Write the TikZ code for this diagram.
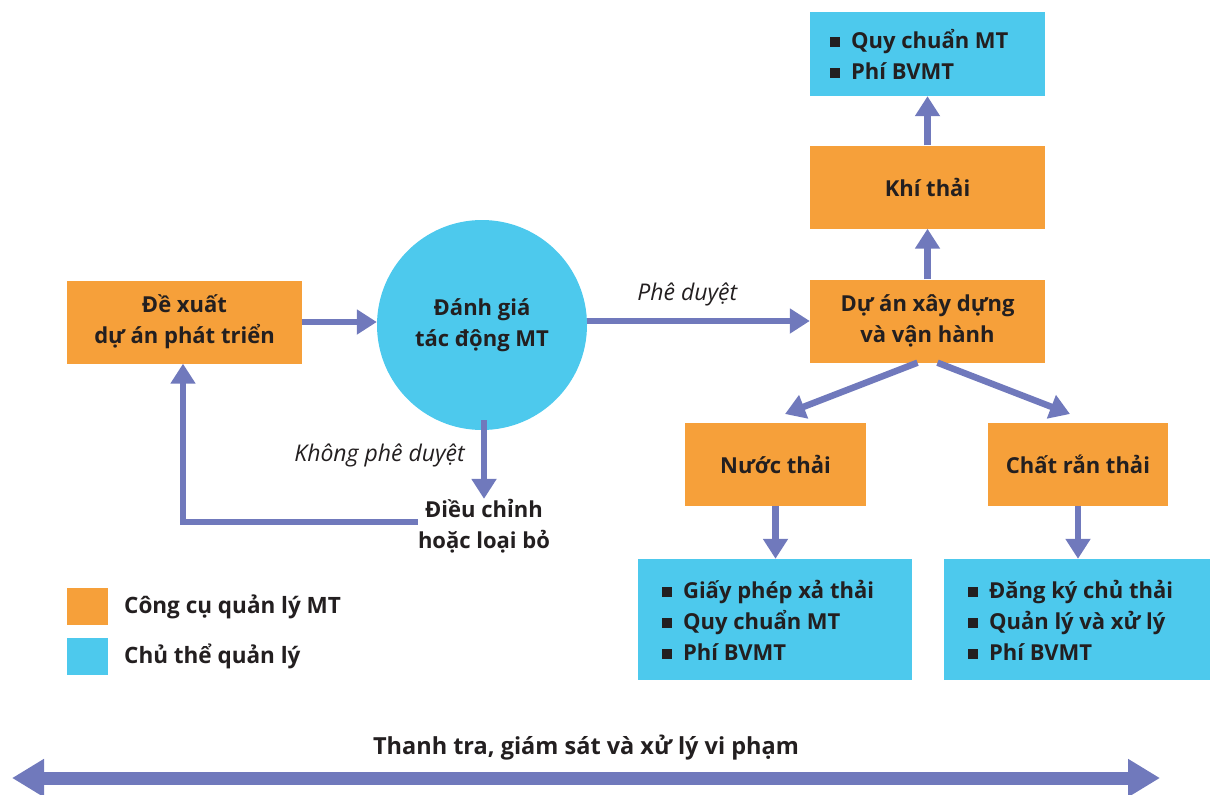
\documentclass[tikz,border=0pt]{standalone}
\usepackage{fontspec}
\setmainfont{Open Sans}
\usetikzlibrary{arrows.meta,positioning}
\definecolor{org}{HTML}{F6A03A}
\definecolor{cyn}{HTML}{4DC9ED}
\definecolor{arr}{HTML}{7079BC}
\definecolor{txt}{HTML}{231F20}
\newcommand{\bsq}{\rule[0.05em]{0.45em}{0.45em}\hspace{0.5em}}
\tikzset{
  base/.style={font=\fontsize{22}{31}\selectfont\bfseries, text=txt, align=center, inner sep=0pt},
  obox/.style={base, fill=org, minimum width=235pt, minimum height=83pt},
  cbox/.style={base, fill=cyn, align=left},
  conn/.style={draw=arr, line width=6.5pt, -{Triangle[length=20pt,width=24pt]}},
  lbl/.style={font=\fontsize{23}{26}\selectfont\itshape, text=txt, inner sep=0pt},
}
\begin{document}
\begin{tikzpicture}[x=1pt,y=-1pt]
\useasboundingbox (0,0) rectangle (1210,795);
% nodes
\node[obox] (dx) at (184.5,322) {Đề xuất\\dự án phát triển};
\node[base, circle, fill=cyn, minimum size=210pt] (dg) at (482,325) {Đánh giá\\tác động MT};
\node[obox] (da) at (927.5,321) {Dự án xây dựng\\và vận hành};
\node[obox] (kt) at (927.5,187) {Khí thải};
\node[cbox, minimum width=235pt, minimum height=84pt] (q1) at (927.5,54) {};
\node[base, align=left, anchor=west] (q1t) at (830,54) {\bsq Quy chuẩn MT\\\bsq Phí BVMT};
\node[obox, minimum width=181pt] (nt) at (775.5,464) {Nước thải};
\node[obox, minimum width=180pt] (cr) at (1078,464) {Chất rắn thải};
\node[cbox, minimum width=274pt, minimum height=121pt] (q2) at (775,619.5) {};
\node[base, align=left, anchor=west] (q2t) at (662,620) {\bsq Giấy phép xả thải\\\bsq Quy chuẩn MT\\\bsq Phí BVMT};
\node[cbox, minimum width=266pt, minimum height=121pt] (q3) at (1077,619.5) {};
\node[base, align=left, anchor=west] (q3t) at (968,620) {\bsq Đăng ký chủ thải\\\bsq Quản lý và xử lý\\\bsq Phí BVMT};
\node[base] (dc) at (484,526) {Điều chỉnh\\hoặc loại bỏ};
\coordinate (fb) at (183,522);
\coordinate (ntin) at (785,414);
\coordinate (crin) at (1070,414);
\coordinate (dgb) at (484,420);
% legend
\node[fill=org, minimum width=41pt, minimum height=37pt, inner sep=0pt] (lg1) at (87.5,606.5) {};
\node[base, font=\fontsize{22.5}{24}\selectfont\bfseries, anchor=west] (lt1) at (124,607) {Công cụ quản lý MT};
\node[fill=cyn, minimum width=41pt, minimum height=37pt, inner sep=0pt] (lg2) at (87.5,656.5) {};
\node[base, font=\fontsize{22.5}{24}\selectfont\bfseries, anchor=west] (lt2) at (124,656) {Chủ thể quản lý};
% bottom
\node[base, font=\fontsize{23.5}{26}\selectfont\bfseries] (tt) at (586,748) {Thanh tra, giám sát và xử lý vi phạm};
\coordinate (bl) at (12,778);
\coordinate (br) at (1160,778);
\draw[draw=arr, line width=13pt, {Triangle[length=32pt,width=36pt]}-{Triangle[length=32pt,width=36pt]}] (bl) -- (br);
% connectors
\draw[conn] (dx.east) -- (dg.west |- dx.east);
\draw[conn] (dg.east |- da.west) -- node[lbl, above=12pt, pos=0.45] {Phê duyệt} (da.west);
\draw[conn] (da.north) -- (kt.south);
\draw[conn] (kt.north) -- (q1.south);
\draw[conn] ([xshift=-10pt]da.south) -- (ntin);
\draw[conn] ([xshift=10pt]da.south) -- (crin);
\draw[conn] (nt.south) -- (nt.south |- q2.north);
\draw[conn] (cr.south) -- (cr.south |- q3.north);
\draw[conn] (dgb) -- (dc.north) node[lbl, pos=0.45, left=16pt] {Không phê duyệt};
\draw[conn] (dc.west |- fb) -- (fb) -- (dx.south -| fb);
\end{tikzpicture}
\end{document}
